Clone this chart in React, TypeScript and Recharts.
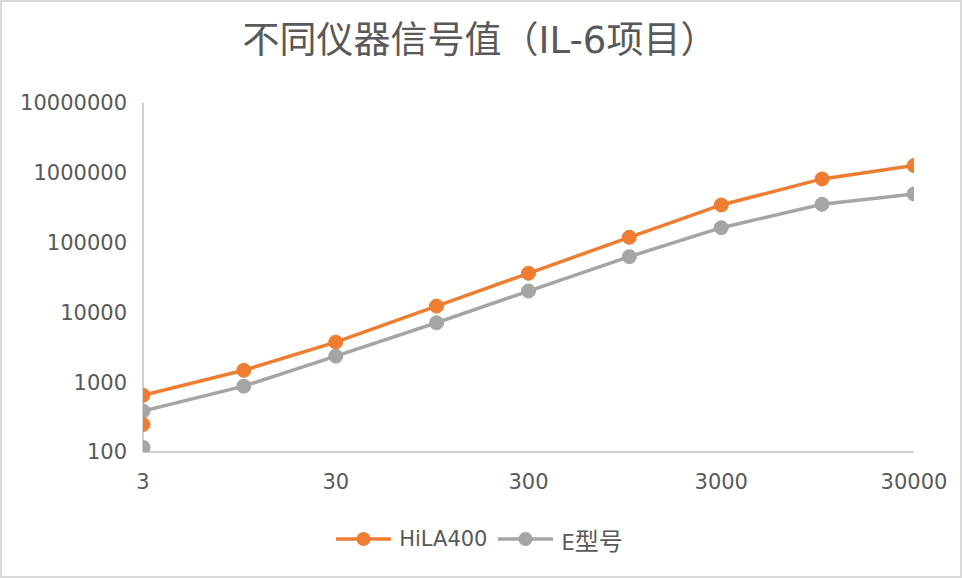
import { LineChart, Line, XAxis, YAxis, Legend } from "recharts"

// dilution points (log x) and signals per instrument
const concentrations = [3, 10, 30, 100, 300, 1000, 3000, 10000, 30000]
const hila400 = [650, 1480, 3750, 12300, 36300, 119000, 346000, 817000, 1268000]
const eType = [387, 877, 2360, 7100, 20200, 62800, 163600, 354000, 498000]

// stray points drawn at x = 3 with no line
const hila400Extra = [247]
const eTypeExtra = [116]

const xTicks = [3, 30, 300, 3000, 30000]
const yTicks = [100, 1000, 10000, 100000, 1000000, 10000000]

const ORANGE = "#ED7D31"
const GRAY = "#A5A5A5"
const TEXT = "#595959"
const FONT = "'DejaVu Sans', 'Noto Sans CJK SC', sans-serif"

const hilaData = concentrations.map((x, i) => ({ x, v: hila400[i] }))
const eData = concentrations.map((x, i) => ({ x, v: eType[i] }))
const hilaExtraData = hila400Extra.map((v) => ({ x: concentrations[0], v }))
const eExtraData = eTypeExtra.map((v) => ({ x: concentrations[0], v }))

const legendItems = [
  { name: "HiLA400", color: ORANGE },
  { name: "E型号", color: GRAY },
]

// CJK glyphs in the legend look a size bigger than the latin ones
function legendLabel(name: string) {
  return name.split(/([\u4e00-\u9fff]+)/).map((part, i) =>
    /[\u4e00-\u9fff]/.test(part) ? (
      <span key={i} style={{ fontSize: 24 }}>{part}</span>
    ) : (
      <span key={i}>{part}</span>
    )
  )
}

function LegendContent() {
  return (
    <div
      style={{
        height: 30,
        paddingLeft: 54,
        display: "flex",
        justifyContent: "center",
        alignItems: "center",
        fontFamily: FONT,
        fontSize: 21,
        color: TEXT,
      }}
    >
      {legendItems.map((item) => (
        <div key={item.name} style={{ display: "flex", alignItems: "center", marginRight: 10 }}>
          <svg width={57} height={20} style={{ marginRight: 7 }}>
            <line x1={1} y1={10} x2={56} y2={10} stroke={item.color} strokeWidth={3.5} />
            <circle cx={28.5} cy={10} r={7} fill={item.color} />
          </svg>
          <span>{legendLabel(item.name)}</span>
        </div>
      ))}
    </div>
  )
}

export default function App() {
  return (
    <div style={{ position: "absolute", left: 0, top: 0, width: 962, height: 578, background: "#fff" }}>
      <div
        style={{
          position: "absolute",
          left: 0,
          top: 17,
          width: 960,
          textAlign: "center",
          fontFamily: FONT,
          fontSize: 37,
          color: TEXT,
          lineHeight: "47px",
        }}
      >
        不同仪器信号值（IL-6项目）
      </div>
      <LineChart width={962} height={578} margin={{ top: 103, right: 48, left: 0, bottom: 24 }}>
        <XAxis
          dataKey="x"
          type="number"
          scale="log"
          domain={[3, 30000]}
          ticks={xTicks}
          allowDataOverflow
          height={72}
          tickSize={0}
          tickMargin={22}
          stroke="#BFBFBF"
          strokeWidth={1.5}
          tick={{ fill: TEXT, fontSize: 21, fontFamily: FONT }}
        />
        <YAxis
          type="number"
          scale="log"
          domain={[100, 10000000]}
          ticks={yTicks}
          allowDataOverflow
          width={143}
          tickSize={0}
          tickMargin={16}
          stroke="#BFBFBF"
          strokeWidth={1.5}
          tick={{ fill: TEXT, fontSize: 21, fontFamily: FONT }}
        />
        <Legend verticalAlign="bottom" content={<LegendContent />} />
        <Line
          data={hilaData}
          dataKey="v"
          name="HiLA400"
          stroke={ORANGE}
          strokeWidth={3.5}
          dot={{ r: 7, fill: ORANGE, stroke: ORANGE, strokeWidth: 1 }}
          isAnimationActive={false}
        />
        <Line
          data={eData}
          dataKey="v"
          name="E型号"
          stroke={GRAY}
          strokeWidth={3.5}
          dot={{ r: 7, fill: GRAY, stroke: GRAY, strokeWidth: 1 }}
          isAnimationActive={false}
        />
        <Line
          data={hilaExtraData}
          dataKey="v"
          stroke="none"
          legendType="none"
          dot={{ r: 7, fill: ORANGE, stroke: ORANGE, strokeWidth: 1 }}
          isAnimationActive={false}
        />
        <Line
          data={eExtraData}
          dataKey="v"
          stroke="none"
          legendType="none"
          dot={{ r: 7, fill: GRAY, stroke: GRAY, strokeWidth: 1 }}
          isAnimationActive={false}
        />
      </LineChart>
      <div
        style={{
          position: "absolute",
          left: 0,
          top: 0,
          width: 962,
          height: 578,
          boxSizing: "border-box",
          border: "2px solid #D9D9D9",
          pointerEvents: "none",
        }}
      />
    </div>
  )
}
